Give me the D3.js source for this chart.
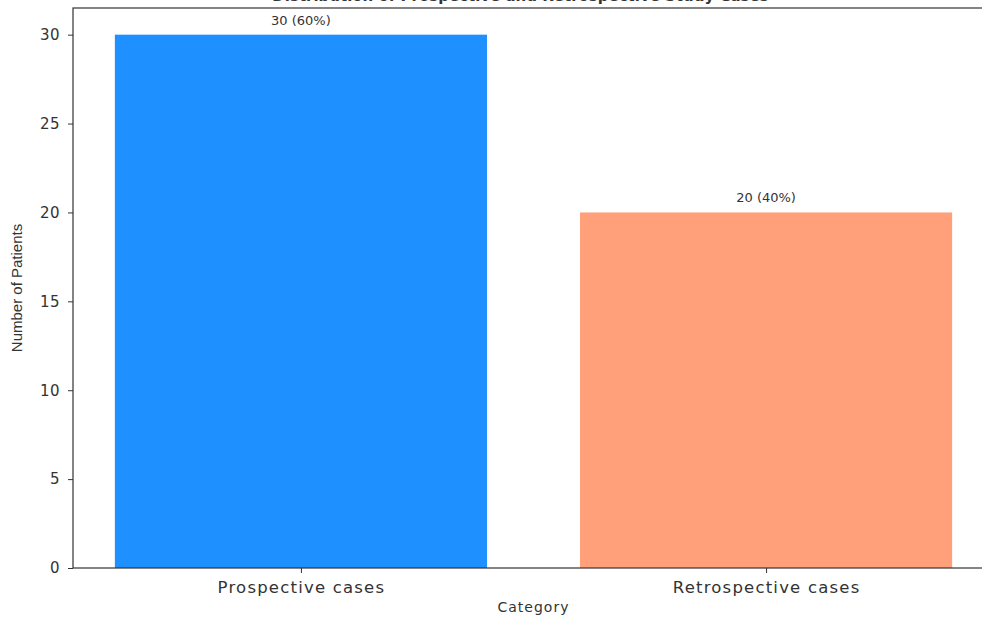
<!DOCTYPE html>
<html>
<head>
<meta charset="utf-8">
<script src="https://cdn.jsdelivr.net/npm/d3@7"></script>
<style>
  html, body { margin: 0; padding: 0; background: #fff; }
  svg { display: block; }
  text { fill: #333; }
</style>
</head>
<body>
<svg id="chart" width="982" height="619"></svg>
<script>
// Patient counts per study arm
const categories = ["Prospective cases", "Retrospective cases"];
const counts = [30, 20];
const barColors = ["#1E90FF", "#FFA07A"];
const yTicks = [0, 5, 10, 15, 20, 25, 30];
const chartTitle = "Distribution of Prospective and Retrospective Study Cases";

const total = d3.sum(counts);
const labels = counts.map(v => `${v} (${Math.round(v / total * 100)}%)`);

const svg = d3.select("#chart");
const margin = { left: 73, top: 8, right: -12, bottom: 51 };
const W = 982, H = 619;
const x0 = margin.left, x1 = W - margin.right;
const y0 = H - margin.bottom, y1 = margin.top;

// Numeric x scale on category index, with 0.8-wide bars and padded limits
const x = d3.scaleLinear().domain([-0.49, 1.49]).range([x0, x1]);
const y = d3.scaleLinear().domain([0, 31.5]).range([y0, y1]);
const barW = 0.8;

const font = "'DejaVu Sans', sans-serif";

// Bars
svg.append("g").selectAll("rect")
  .data(counts)
  .join("rect")
  .attr("x", (d, i) => x(i - barW / 2))
  .attr("width", (d, i) => x(i + barW / 2) - x(i - barW / 2))
  .attr("y", d => y(d))
  .attr("height", d => y(0) - y(d))
  .attr("fill", (d, i) => barColors[i]);

// Value labels above bars
svg.append("g").selectAll("text")
  .data(counts)
  .join("text")
  .attr("x", (d, i) => x(i))
  .attr("y", d => y(d) - 10)
  .attr("text-anchor", "middle")
  .style("font-family", font)
  .style("font-size", "13px")
  .text((d, i) => labels[i]);

// Y axis
const yAxis = svg.append("g")
  .attr("transform", `translate(${x0},0)`)
  .call(d3.axisLeft(y).tickValues(yTicks).tickSize(5).tickPadding(8));
yAxis.select(".domain").remove();
yAxis.selectAll("line").attr("stroke", "#333");
yAxis.selectAll("text")
  .style("font-family", font)
  .style("font-size", "15px")
  .style("letter-spacing", "0.5px")
  .attr("fill", "#333");

// X axis
const xAxis = svg.append("g")
  .attr("transform", `translate(0,${y0})`)
  .call(d3.axisBottom(x).tickValues([0, 1]).tickFormat(i => categories[i]).tickSize(5).tickPadding(8));
xAxis.select(".domain").remove();
xAxis.selectAll("line").attr("stroke", "#333");
xAxis.selectAll("text")
  .style("font-family", font)
  .style("font-size", "16.5px")
  .style("letter-spacing", "1.2px")
  .attr("fill", "#333");

// Frame
svg.append("rect")
  .attr("x", x0).attr("y", y1)
  .attr("width", x1 - x0).attr("height", y0 - y1)
  .attr("fill", "none")
  .attr("stroke", "#333")
  .attr("stroke-width", 1.2);

// Axis titles
svg.append("text")
  .attr("x", (x0 + x1) / 2)
  .attr("y", 612)
  .attr("text-anchor", "middle")
  .style("font-family", font)
  .style("font-size", "14px")
  .style("letter-spacing", "1px")
  .text("Category");

svg.append("text")
  .attr("transform", `translate(22,${(y0 + y1) / 2}) rotate(-90)`)
  .attr("text-anchor", "middle")
  .style("font-family", "'Liberation Sans', Arial, sans-serif")
  .style("font-size", "15px")
  .text("Number of Patients");

// Chart title (sits at the top edge)
svg.append("text")
  .attr("x", (x0 + x1) / 2 - 13)
  .attr("y", 0.5)
  .attr("text-anchor", "middle")
  .style("font-family", font)
  .style("font-size", "15px")
  .style("font-weight", "600")
  .text(chartTitle);
</script>
</body>
</html>
